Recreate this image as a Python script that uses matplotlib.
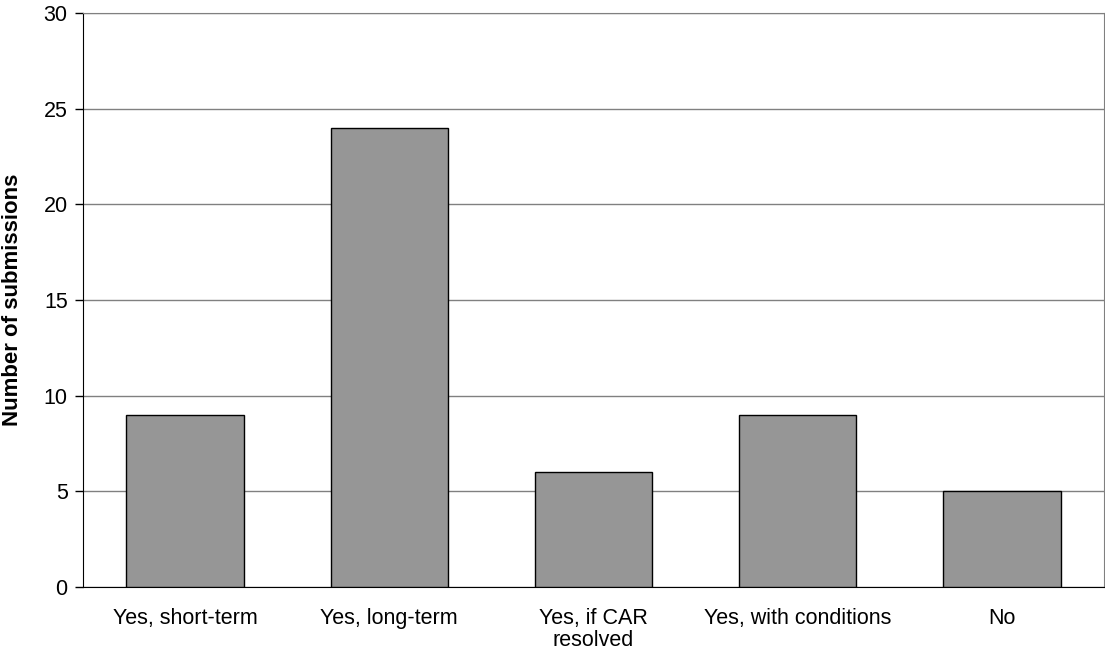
import matplotlib
matplotlib.use("Agg")
import matplotlib.pyplot as plt

categories = ["Yes, short-term", "Yes, long-term", "Yes, if CAR\nresolved",
              "Yes, with conditions", "No"]
submissions = [9, 24, 6, 9, 5]
y_ticks = [0, 5, 10, 15, 20, 25, 30]

plt.rcParams['font.family'] = ['Liberation Sans', 'DejaVu Sans']

fig = plt.figure(figsize=(11.05, 6.53), dpi=100)
ax = fig.add_axes([83 / 1105, 1 - 587 / 653, (1104 - 83) / 1105, (587 - 13) / 653])

x = list(range(len(categories)))
ax.bar(x, submissions, width=0.575, color="#969696", edgecolor="black",
       linewidth=1.0, zorder=3)

ax.set_xlim(-0.5, len(categories) - 0.5)
ax.set_ylim(0, 30)
ax.set_yticks(y_ticks)
ax.set_xticks(x)
ax.set_xticklabels(categories, fontsize=15.5, linespacing=1.05)
ax.tick_params(axis="x", length=0, pad=15)
ax.tick_params(axis="y", length=6, width=1, labelsize=15.5, pad=5)

ax.yaxis.grid(True, color="#808080", linewidth=1.0, zorder=0)
ax.set_axisbelow(True)

for side in ("top", "right"):
    ax.spines[side].set_color("#808080")
for side in ("left", "bottom"):
    ax.spines[side].set_color("black")

ax.set_ylabel("Number of submissions", fontsize=16, fontweight="bold")
ax.yaxis.set_label_coords(-60 / 1021, 0.5)

fig.savefig("out.png", dpi=100)
